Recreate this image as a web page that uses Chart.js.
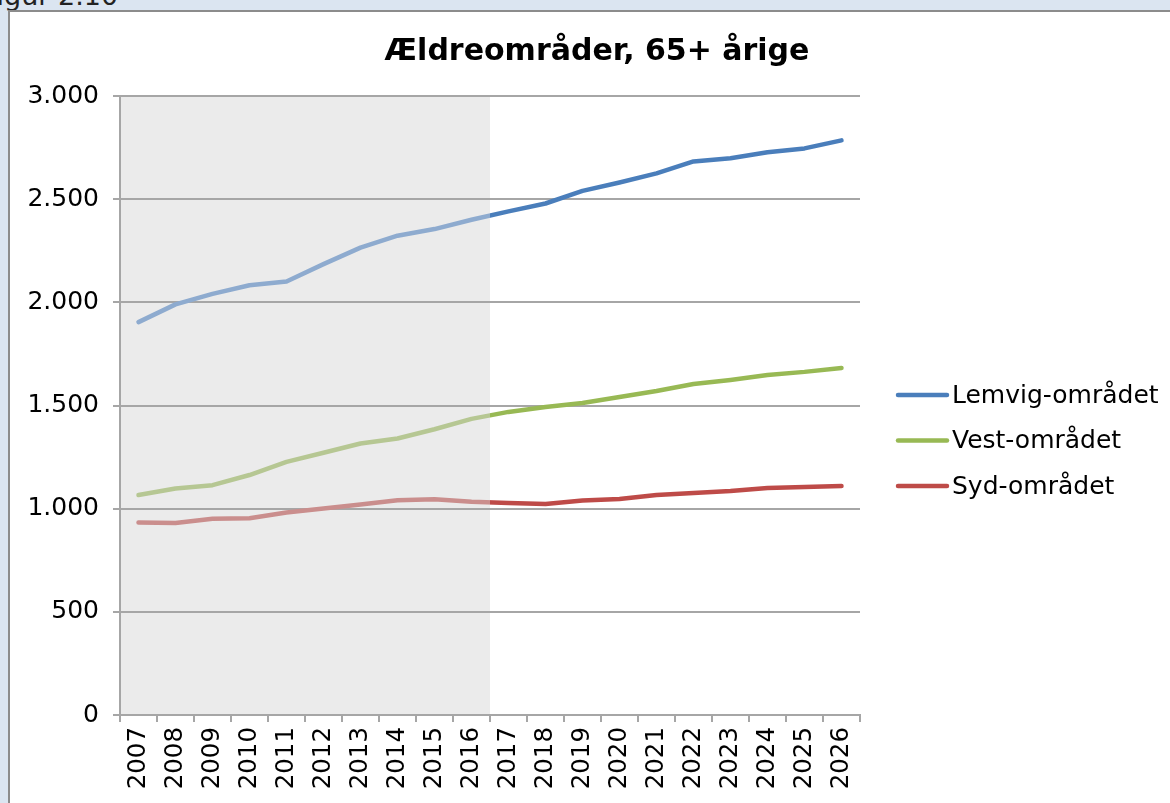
<!DOCTYPE html>
<html>
<head>
<meta charset="utf-8">
<script src="https://cdn.jsdelivr.net/npm/chart.js@4.4.1/dist/chart.umd.min.js"></script>
<style>
body { margin:0; background:#dbe5f1; overflow:hidden; width:1170px; height:803px; position:relative; font-family:'DejaVu Sans', Verdana, sans-serif; }
#caption { position:absolute; left:-17px; top:-18px; font-size:27px; line-height:27px; color:#222; white-space:nowrap; }
#frame { position:absolute; left:8px; top:10px; width:1170px; height:800px; background:#fff; border-left:2px solid #8c8c8c; border-top:2px solid #8c8c8c; }
#chart { position:absolute; left:0; top:0; }
</style>
</head>
<body>
<div id="caption">Figur 2.10</div>
<div id="frame"><canvas id="chart" width="1160" height="791"></canvas></div>
<script>
var years = ['2007','2008','2009','2010','2011','2012','2013','2014','2015','2016',
             '2017','2018','2019','2020','2021','2022','2023','2024','2025','2026'];
var lemvig = [1904, 1990, 2041, 2083, 2101, 2185, 2265, 2323, 2355, 2400,
              2441, 2479, 2540, 2581, 2625, 2683, 2698, 2727, 2746, 2785];
var vest   = [1066, 1098, 1114, 1163, 1227, 1271, 1316, 1340, 1385, 1435,
              1469, 1493, 1512, 1541, 1570, 1604, 1624, 1648, 1663, 1682];
var syd    = [933, 931, 951, 954, 981, 1001, 1020, 1041, 1046, 1033,
              1028, 1023, 1040, 1047, 1066, 1076, 1086, 1100, 1105, 1110];
var seriesNames = ['Lemvig-området', 'Vest-området', 'Syd-området'];
var lastHistoric = '2016';

var solidColors = ['#4a7ebb', '#98b954', '#be4b48'];
var fadedColors = ['#8eabcf', '#b6c793', '#ca8e8d'];
var font = "'DejaVu Sans', Verdana, sans-serif";

// x pixel where the shaded (historic) part ends
function splitX(chart){
    var x = chart.scales.x;
    var i = years.indexOf(lastHistoric);
    return (x.getPixelForValue(i) + x.getPixelForValue(i + 1)) / 2;
}

function lineColor(idx){
    return function(context){
        var chart = context.chart;
        var area = chart.chartArea;
        if(!area || !chart.scales.x){
            return solidColors[idx];
        }
        var f = (splitX(chart) - area.left) / (area.right - area.left);
        var g = chart.ctx.createLinearGradient(area.left, 0, area.right, 0);
        g.addColorStop(0, fadedColors[idx]);
        g.addColorStop(f, fadedColors[idx]);
        g.addColorStop(f, solidColors[idx]);
        g.addColorStop(1, solidColors[idx]);
        return g;
    };
}

var shadePlugin = {
    id: 'shade',
    beforeDraw: function(chart){
        var area = chart.chartArea;
        var ctx = chart.ctx;
        ctx.save();
        ctx.fillStyle = '#ebebeb';
        ctx.fillRect(area.left, area.top, splitX(chart) - area.left, area.bottom - area.top);
        ctx.restore();
    }
};

// legend to the right of the plot, line sample + name
var sideLegend = {
    id: 'sideLegend',
    afterDraw: function(chart){
        var ctx = chart.ctx;
        var area = chart.chartArea;
        var x0 = area.right + 38;
        var y0 = 383;
        ctx.save();
        ctx.font = '25px ' + font;
        ctx.textBaseline = 'middle';
        ctx.textAlign = 'left';
        chart.data.datasets.forEach(function(ds, i){
            var y = y0 + i * 45.5;
            ctx.strokeStyle = solidColors[i];
            ctx.lineWidth = 4.5;
            ctx.lineCap = 'round';
            ctx.beginPath();
            ctx.moveTo(x0, y);
            ctx.lineTo(x0 + 49, y);
            ctx.stroke();
            ctx.fillStyle = '#000';
            ctx.fillText(ds.label, x0 + 54, y + 1);
        });
        ctx.restore();
    }
};

function fmt(v){
    return String(v).replace(/\B(?=(\d{3})+(?!\d))/g, '.');
}

var allSeries = [lemvig, vest, syd];
var datasets = [];
for(var s = 0; s < allSeries.length; s++){
    datasets.push({
        label: seriesNames[s],
        data: allSeries[s],
        borderColor: lineColor(s),
        backgroundColor: solidColors[s],
        borderWidth: 4.5,
        borderCapStyle: 'round',
        borderJoinStyle: 'round',
        pointRadius: 0,
        tension: 0,
        fill: false
    });
}

var gridGray = '#a6a6a6';

new Chart(document.getElementById('chart').getContext('2d'), {
    type: 'line',
    data: { labels: years, datasets: datasets },
    plugins: [shadePlugin, sideLegend],
    options: {
        responsive: false,
        animation: false,
        layout: { padding: { left: 14, right: 0, top: 0, bottom: 0 } },
        plugins: {
            title: {
                display: true,
                text: 'Ældreområder, 65+ årige',
                color: '#000',
                font: { family: font, size: 30, weight: 'bold' },
                padding: { top: 22, bottom: 26 }
            },
            legend: { display: false },
            tooltip: { enabled: false }
        },
        scales: {
            x: {
                offset: true,
                grid: { display: true, drawOnChartArea: false, offset: true, tickLength: 7, color: gridGray, lineWidth: 2 },
                border: { display: true, color: gridGray, width: 2 },
                ticks: { color: '#000', font: { family: font, size: 24.5 }, minRotation: 90, maxRotation: 90, padding: 5, autoSkip: false },
                afterFit: function(scale){ scale.height = 88; }
            },
            y: {
                min: 0,
                max: 3000,
                grid: { color: gridGray, lineWidth: 2, tickLength: 7 },
                border: { display: true, color: gridGray, width: 2 },
                ticks: {
                    stepSize: 500,
                    color: '#000',
                    padding: 14,
                    font: { family: font, size: 25 },
                    callback: function(v){ return fmt(v); }
                },
                afterFit: function(scale){ scale.width = 96; }
            },
            yRight: {
                position: 'right',
                display: true,
                grid: { display: false },
                border: { display: false },
                ticks: { display: false },
                afterFit: function(scale){ scale.width = 310; }
            }
        }
    }
});
</script>
</body>
</html>
